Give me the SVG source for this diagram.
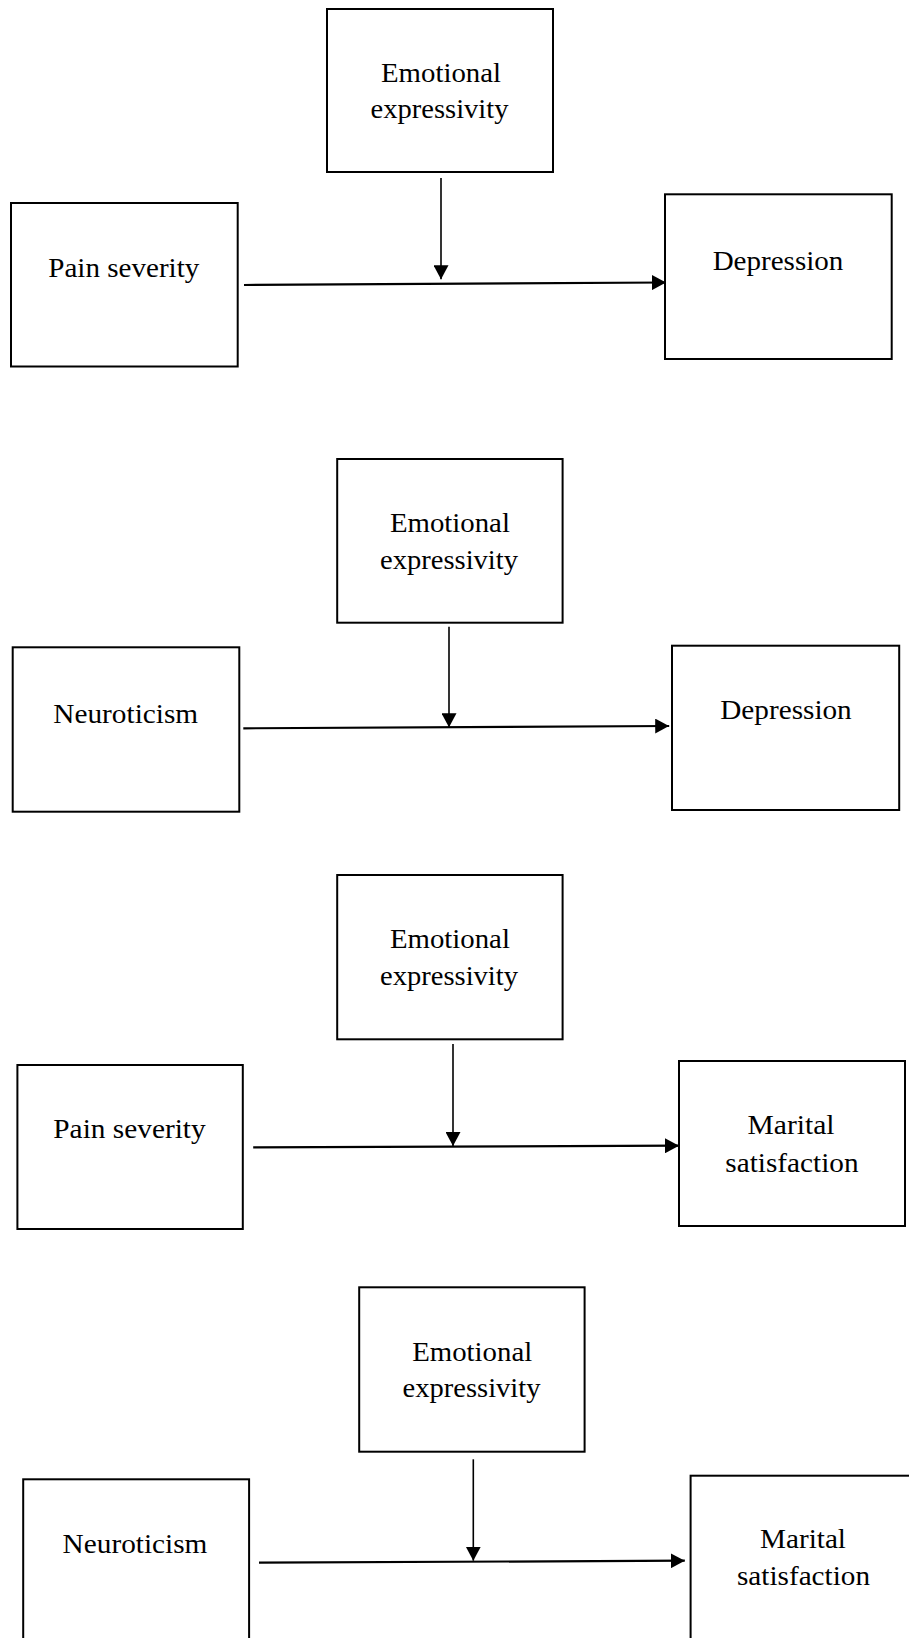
<svg xmlns="http://www.w3.org/2000/svg" width="909" height="1638" viewBox="0 0 909 1638">
<style>
.box{fill:#fff;stroke:#000;stroke-width:2}
.lbl{font-family:"Liberation Serif","Times New Roman",serif;font-size:28px;fill:#000;text-anchor:middle}
.h{stroke:#000;stroke-width:2.2;fill:none}
.v{stroke:#000;stroke-width:1.6;fill:none}
</style>
<defs>
<marker id="ah" markerUnits="userSpaceOnUse" markerWidth="14" markerHeight="15" refX="14" refY="7.5" orient="auto" viewBox="0 0 14 15">
<path d="M0,0 L14,7.5 L0,15 Z" fill="#000"/>
</marker>
</defs>
<rect width="909" height="1638" fill="#fff"/>

<!-- Diagram 1 -->
<g id="d1-ee"><rect class="box" x="327" y="9" width="226" height="163"/>
<text class="lbl" x="441" y="82" textLength="120" lengthAdjust="spacingAndGlyphs">Emotional</text>
<text class="lbl" x="439.5" y="118.3" textLength="138" lengthAdjust="spacingAndGlyphs">expressivity</text></g>
<g id="d1-pain"><rect class="box" x="11" y="203" width="226.7" height="163.5"/>
<text class="lbl" x="123.8" y="277" textLength="151" lengthAdjust="spacingAndGlyphs">Pain severity</text></g>
<g id="d1-dep"><rect class="box" x="665" y="194.3" width="226.7" height="164.7"/>
<text class="lbl" x="778" y="270" textLength="130.7" lengthAdjust="spacingAndGlyphs">Depression</text></g>

<!-- Diagram 2 -->
<g id="d2-ee"><rect class="box" x="337.2" y="459" width="225.4" height="163.7"/>
<text class="lbl" x="449.9" y="532.3" textLength="120" lengthAdjust="spacingAndGlyphs">Emotional</text>
<text class="lbl" x="449" y="569.3" textLength="138" lengthAdjust="spacingAndGlyphs">expressivity</text></g>
<g id="d2-neu"><rect class="box" x="12.7" y="647.3" width="226.6" height="164.4"/>
<text class="lbl" x="125.7" y="722.7" textLength="144.8" lengthAdjust="spacingAndGlyphs">Neuroticism</text></g>
<g id="d2-dep"><rect class="box" x="672" y="645.7" width="227.2" height="164.3"/>
<text class="lbl" x="786" y="719.3" textLength="131.5" lengthAdjust="spacingAndGlyphs">Depression</text></g>

<!-- Diagram 3 -->
<g id="d3-ee"><rect class="box" x="337.2" y="875" width="225.4" height="164.3"/>
<text class="lbl" x="449.9" y="948" textLength="120" lengthAdjust="spacingAndGlyphs">Emotional</text>
<text class="lbl" x="449" y="985" textLength="138" lengthAdjust="spacingAndGlyphs">expressivity</text></g>
<g id="d3-pain"><rect class="box" x="17.4" y="1065" width="225.4" height="164"/>
<text class="lbl" x="129.5" y="1138.3" textLength="152.4" lengthAdjust="spacingAndGlyphs">Pain severity</text></g>
<g id="d3-mar"><rect class="box" x="679" y="1061" width="226" height="165"/>
<text class="lbl" x="791" y="1134" textLength="87" lengthAdjust="spacingAndGlyphs">Marital</text>
<text class="lbl" x="792" y="1171.7" textLength="133.3" lengthAdjust="spacingAndGlyphs">satisfaction</text></g>

<!-- Diagram 4 -->
<g id="d4-ee"><rect class="box" x="359.2" y="1287.3" width="225.4" height="164.4"/>
<text class="lbl" x="472.2" y="1360.5" textLength="120" lengthAdjust="spacingAndGlyphs">Emotional</text>
<text class="lbl" x="471.5" y="1397.3" textLength="138" lengthAdjust="spacingAndGlyphs">expressivity</text></g>
<g id="d4-neu"><rect class="box" x="23.2" y="1479.3" width="225.9" height="200"/>
<text class="lbl" x="135" y="1553.3" textLength="144.8" lengthAdjust="spacingAndGlyphs">Neuroticism</text></g>
<g id="d4-mar"><rect class="box" x="690.6" y="1475.7" width="226" height="200"/>
<text class="lbl" x="803" y="1548.3" textLength="86" lengthAdjust="spacingAndGlyphs">Marital</text>
<text class="lbl" x="803.5" y="1585" textLength="133" lengthAdjust="spacingAndGlyphs">satisfaction</text></g>

<g id="connectors">
<line class="v" x1="441" y1="178" x2="441" y2="279.3" marker-end="url(#ah)"/>
<line class="h" x1="244" y1="285" x2="666" y2="282.5" marker-end="url(#ah)"/>
<line class="v" x1="449" y1="626.7" x2="449" y2="727.3" marker-end="url(#ah)"/>
<line class="h" x1="243.3" y1="728.3" x2="669.2" y2="726" marker-end="url(#ah)"/>
<line class="v" x1="453" y1="1044" x2="453" y2="1146" marker-end="url(#ah)"/>
<line class="h" x1="253.2" y1="1147.3" x2="679" y2="1145.7" marker-end="url(#ah)"/>
<line class="v" x1="473.3" y1="1459.3" x2="473.3" y2="1560.7" marker-end="url(#ah)"/>
<line class="h" x1="259" y1="1562.7" x2="684.8" y2="1560.7" marker-end="url(#ah)"/>
</g>
</svg>
